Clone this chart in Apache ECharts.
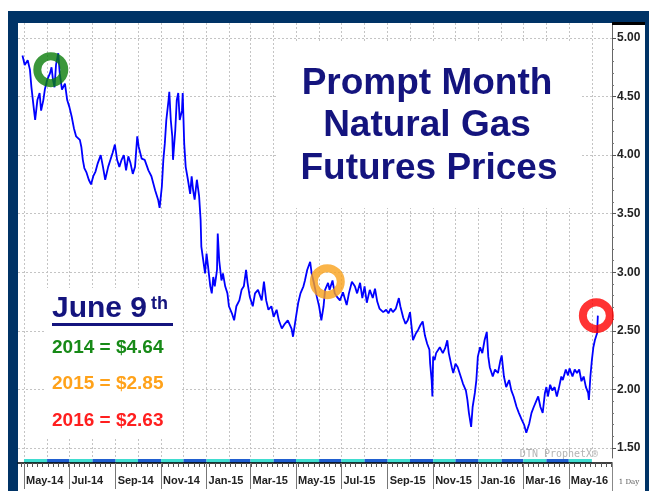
<!DOCTYPE html>
<html>
<head>
<meta charset="utf-8">
<script src="https://cdn.jsdelivr.net/npm/echarts@6/dist/echarts.min.js"></script>
<style>html,body{margin:0;padding:0;background:#fff}#c{width:649px;height:491px}</style>
</head>
<body>
<div id="c"></div>
<script>
// ---- data ----
const dates = [
'2014-04-29','2014-05-02','2014-05-06','2014-05-09','2014-05-11','2014-05-14','2014-05-16','2014-05-19','2014-05-22','2014-05-24',
'2014-05-27','2014-05-29','2014-06-01','2014-06-05','2014-06-07','2014-06-09','2014-06-11','2014-06-13','2014-06-16','2014-06-18',
'2014-06-21','2014-06-25','2014-06-28','2014-07-01','2014-07-04','2014-07-07','2014-07-10','2014-07-15','2014-07-17','2014-07-19',
'2014-07-21','2014-07-24','2014-07-27','2014-07-30','2014-08-02','2014-08-05','2014-08-08','2014-08-12','2014-08-15','2014-08-18',
'2014-08-22','2014-08-25','2014-08-28','2014-08-31','2014-09-03','2014-09-06','2014-09-09','2014-09-12','2014-09-15','2014-09-18',
'2014-09-21','2014-09-24','2014-09-27','2014-09-30','2014-10-02','2014-10-06','2014-10-10','2014-10-15','2014-10-19','2014-10-24',
'2014-10-28','2014-10-30','2014-11-02','2014-11-04','2014-11-06','2014-11-08','2014-11-11','2014-11-12','2014-11-14','2014-11-16',
'2014-11-17','2014-11-20','2014-11-22','2014-11-24','2014-11-26','2014-11-29','2014-11-30','2014-12-02','2014-12-04','2014-12-07',
'2014-12-10','2014-12-12','2014-12-14','2014-12-16','2014-12-19','2014-12-22','2014-12-24','2014-12-25','2014-12-28','2014-12-30',
'2015-01-01','2015-01-03','2015-01-06','2015-01-08','2015-01-10','2015-01-12','2015-01-15','2015-01-16','2015-01-18','2015-01-21',
'2015-01-23','2015-01-26','2015-01-29','2015-01-31','2015-02-04','2015-02-07','2015-02-10','2015-02-14','2015-02-17','2015-02-20',
'2015-02-23','2015-02-25','2015-02-28','2015-03-04','2015-03-07','2015-03-11','2015-03-16','2015-03-19','2015-03-22','2015-03-25',
'2015-03-29','2015-04-01','2015-04-05','2015-04-08','2015-04-12','2015-04-16','2015-04-20','2015-04-25','2015-04-27','2015-05-01',
'2015-05-04','2015-05-07','2015-05-11','2015-05-13','2015-05-16','2015-05-20','2015-05-22','2015-05-25','2015-05-29','2015-06-01',
'2015-06-04','2015-06-07','2015-06-09','2015-06-13','2015-06-15','2015-06-19','2015-06-22','2015-06-25','2015-06-29','2015-07-03',
'2015-07-08','2015-07-11','2015-07-15','2015-07-19','2015-07-22','2015-07-26','2015-07-29','2015-08-01','2015-08-04','2015-08-08',
'2015-08-12','2015-08-15','2015-08-18','2015-08-21','2015-08-26','2015-08-30','2015-09-02','2015-09-05','2015-09-08','2015-09-12',
'2015-09-16','2015-09-18','2015-09-22','2015-09-25','2015-09-28','2015-10-01','2015-10-03','2015-10-05','2015-10-09','2015-10-12',
'2015-10-15','2015-10-18','2015-10-21','2015-10-24','2015-10-27','2015-10-28','2015-10-30','2015-10-31','2015-11-01','2015-11-03',
'2015-11-05','2015-11-10','2015-11-14','2015-11-17','2015-11-20','2015-11-22','2015-11-26','2015-11-28','2015-12-01','2015-12-04',
'2015-12-08','2015-12-11','2015-12-15','2015-12-17','2015-12-19','2015-12-22','2015-12-24','2015-12-27','2015-12-29','2015-12-31',
'2016-01-03','2016-01-06','2016-01-09','2016-01-12','2016-01-14','2016-01-16','2016-01-20','2016-01-23','2016-01-27','2016-01-30',
'2016-02-01','2016-02-04','2016-02-07','2016-02-11','2016-02-14','2016-02-17','2016-02-21','2016-02-24','2016-02-28','2016-03-02',
'2016-03-05','2016-03-09','2016-03-12','2016-03-15','2016-03-19','2016-03-21','2016-03-24','2016-03-27','2016-03-30','2016-04-01',
'2016-04-03','2016-04-06','2016-04-09','2016-04-12','2016-04-15','2016-04-18','2016-04-21','2016-04-23','2016-04-27','2016-04-30',
'2016-05-02','2016-05-06','2016-05-09','2016-05-12','2016-05-15','2016-05-18','2016-05-21','2016-05-24','2016-05-27','2016-05-28',
'2016-05-30','2016-06-01','2016-06-03','2016-06-05','2016-06-07','2016-06-08','2016-06-09'
];
const prices = [
4.85,4.77,4.81,4.73,4.58,4.41,4.30,4.47,4.53,4.38,
4.47,4.56,4.64,4.70,4.75,4.64,4.58,4.77,4.87,4.70,
4.56,4.61,4.47,4.41,4.33,4.23,4.16,4.13,4.07,3.96,
3.89,3.85,3.79,3.75,3.82,3.86,3.93,4.00,3.90,3.79,
3.90,3.96,4.02,4.09,3.96,3.90,3.96,4.00,3.87,3.99,
3.93,3.84,3.90,4.16,4.07,3.97,3.96,3.87,3.82,3.70,
3.62,3.55,3.73,3.96,4.10,4.30,4.47,4.54,4.30,4.16,
3.96,4.21,4.47,4.53,4.30,4.38,4.53,4.10,3.90,3.79,
3.67,3.82,3.70,3.62,3.79,3.65,3.45,3.22,3.08,2.99,
3.16,3.05,2.88,2.82,2.96,2.88,3.02,3.33,3.10,2.93,
2.99,2.88,2.82,2.71,2.65,2.59,2.71,2.76,2.85,2.88,
3.02,2.91,2.79,2.71,2.82,2.85,2.76,2.92,2.76,2.68,
2.71,2.62,2.68,2.59,2.52,2.56,2.59,2.52,2.45,2.62,
2.74,2.82,2.88,2.93,3.02,3.09,2.99,2.91,2.79,2.71,
2.59,2.71,2.85,2.91,2.85,2.93,2.82,2.79,2.76,2.83,
2.72,2.82,2.92,2.88,2.82,2.91,2.78,2.88,2.74,2.85,
2.78,2.86,2.75,2.69,2.66,2.68,2.65,2.69,2.66,2.69,
2.78,2.71,2.61,2.56,2.59,2.66,2.54,2.42,2.48,2.51,
2.55,2.58,2.46,2.39,2.34,2.22,2.08,1.94,2.28,2.25,
2.31,2.36,2.31,2.35,2.42,2.31,2.19,2.14,2.22,2.19,
2.11,2.05,1.99,1.91,1.80,1.68,1.85,1.97,2.08,2.28,
2.36,2.31,2.42,2.49,2.28,2.19,2.11,2.17,2.14,2.24,
2.29,2.11,2.02,2.08,1.99,1.94,1.85,1.80,1.74,1.70,
1.63,1.71,1.80,1.85,1.91,1.94,1.85,1.80,1.97,2.02,
1.94,2.04,1.99,2.02,1.94,2.02,2.11,2.08,2.17,2.12,
2.18,2.11,2.17,2.14,2.17,2.07,2.11,2.02,1.97,1.91,
2.11,2.25,2.36,2.42,2.46,2.48,2.63
];
const xTickDates  = ['2014-05-01','2014-07-01','2014-09-01','2014-11-01','2015-01-01','2015-03-01','2015-05-01','2015-07-01','2015-09-01','2015-11-01','2016-01-01','2016-03-01','2016-05-01'];
const xTickLabels = ['May-14','Jul-14','Sep-14','Nov-14','Jan-15','Mar-15','May-15','Jul-15','Sep-15','Nov-15','Jan-16','Mar-16','May-16'];
const ringDates  = ['2014-06-06','2015-06-12','2016-06-07'];
const ringValues = [4.73, 2.92, 2.63];
const noteLines  = ['2014 = $4.64','2015 = $2.85','2016 = $2.63'];

// ---- day-by-day category axis (axis scaffolding) ----
const days = [];
for (let t = Date.UTC(2014,3,23); t <= Date.UTC(2016,5,28); t += 86400000) {
  days.push(new Date(t).toISOString().slice(0,10));
}
const isMonthStart = (i, v) => v.slice(8) === '01';
const isMonday = (i, v) => new Date(v + 'T00:00:00Z').getUTCDay() === 1;
const isTick = (i, v) => xTickDates.indexOf(v) >= 0;

const ringColors = ['#0a7d0a', '#f9a11b', '#ff0000'];
const noteColors = ['#178a17', '#ffa21a', '#ff1f1f'];
const navy = '#003366';
const titleColor = '#14147e';
const sans = '"Liberation Sans",Arial,sans-serif';

const chart = echarts.init(document.getElementById('c'), null, {renderer: 'canvas'});
chart.setOption({
  backgroundColor: '#ffffff',
  animation: false,
  grid: [
    {left: 18, right: 37, top: 38, bottom: 43},    // main price grid (1.50 .. 5.00)
    {left: 18, right: 37, top: 23, bottom: 33},    // full plot frame (vertical grid lines)
    {left: 18, right: 37, top: 459, height: 4}     // month band + date axis
  ],
  xAxis: [
    {type: 'category', gridIndex: 0, data: days, boundaryGap: false,
     axisLine: {show: false}, axisTick: {show: false}, axisLabel: {show: false}, splitLine: {show: false}},
    {type: 'category', gridIndex: 1, data: days, boundaryGap: false,
     axisLine: {show: false}, axisTick: {show: false}, axisLabel: {show: false},
     splitLine: {show: true, interval: isMonthStart, lineStyle: {color: '#c4c4c4', type: [2, 2], width: 1}}},
    {type: 'category', gridIndex: 2, data: days, boundaryGap: false, position: 'bottom',
     axisLine: {show: true, lineStyle: {color: '#000', width: 1.5}},
     axisTick: {show: true, interval: isMonday, length: 4, lineStyle: {color: '#555'}},
     axisLabel: {show: true, interval: isTick, align: 'left', margin: 12, padding: [0,0,0,2],
       formatter: v => xTickLabels[xTickDates.indexOf(v)] || '',
       fontFamily: sans, fontWeight: 'bold', fontSize: 11, color: '#222'},
     splitLine: {show: false},
     splitArea: {show: true, interval: isMonthStart, areaStyle: {color: ['#3fdcd0', '#1f5fd0']}}},
    {type: 'category', gridIndex: 2, data: days, boundaryGap: false, position: 'bottom',
     axisLine: {show: false}, axisTick: {show: true, interval: isTick, length: 26, lineStyle: {color: '#777'}},
     axisLabel: {show: false}, splitLine: {show: false}}
  ],
  yAxis: [
    {type: 'value', gridIndex: 0, position: 'right', min: 1.5, max: 5, interval: 0.5,
     axisLine: {show: false},
     axisTick: {show: true, length: 4, lineStyle: {color: '#555'}},
     minorTick: {show: true, splitNumber: 5, length: 2, lineStyle: {color: '#777'}},
     axisLabel: {margin: 5, formatter: v => v.toFixed(2), fontFamily: sans, fontWeight: 'bold', fontSize: 12, color: '#222'},
     splitLine: {show: true, lineStyle: {color: '#c4c4c4', type: [2, 2], width: 1}}},
    {type: 'value', gridIndex: 1, position: 'right', min: 0, max: 1,
     axisLine: {show: true, lineStyle: {color: '#666', width: 1}},
     axisTick: {show: false}, axisLabel: {show: false}, splitLine: {show: false}},
    {type: 'value', gridIndex: 2, min: 0, max: 1, show: false}
  ],
  series: [
    {type: 'line', xAxisIndex: 0, yAxisIndex: 0, z: 3,
     data: dates.map((d, i) => [d, prices[i]]),
     showSymbol: false, symbol: 'none',
     lineStyle: {color: '#0000ff', width: 1.8}},
    {type: 'scatter', xAxisIndex: 0, yAxisIndex: 0, z: 5,
     data: ringDates.map((d, i) => ({value: [d, ringValues[i]],
       itemStyle: {color: 'rgba(0,0,0,0)', borderColor: ringColors[i], borderWidth: 8}})),
     symbol: 'circle', symbolSize: 27}
  ],
  graphic: {elements: [
    {type: 'rect', silent: true, z: -20, shape: {x: 8, y: 11, width: 641, height: 480}, style: {fill: navy}},
    {type: 'rect', silent: true, z: -19, shape: {x: 18, y: 23, width: 627, height: 468}, style: {fill: '#ffffff'}},
    {type: 'rect', silent: true, z: 10, shape: {x: 612, y: 22, width: 33, height: 3}, style: {fill: '#000'}},
    {type: 'rect', silent: true, z: 10, shape: {x: 612, y: 463, width: 1, height: 28}, style: {fill: '#888'}},
    {type: 'text', silent: true, z: 10, style: {x: 629, y: 482, text: '1 Day', fill: '#555',
      font: '7px "DejaVu Serif",serif', align: 'center', verticalAlign: 'middle'}},
    {type: 'text', silent: true, z: 10, style: {x: 559, y: 454, text: 'DTN ProphetX®', fill: '#b4b4b4',
      font: '10px "DejaVu Sans Mono",monospace', align: 'center', verticalAlign: 'middle'}},
    // title box
    {type: 'rect', silent: true, z: 1, shape: {x: 276, y: 42, width: 306, height: 166}, style: {fill: '#ffffff'}},
    {type: 'text', silent: true, z: 10, style: {x: 427, y: 84, text: 'Prompt Month', fill: titleColor,
      font: 'bold 37px ' + sans, align: 'center', verticalAlign: 'middle'}},
    {type: 'text', silent: true, z: 10, style: {x: 427, y: 126, text: 'Natural Gas', fill: titleColor,
      font: 'bold 37px ' + sans, align: 'center', verticalAlign: 'middle'}},
    {type: 'text', silent: true, z: 10, style: {x: 429, y: 169, text: 'Futures Prices', fill: titleColor,
      font: 'bold 37px ' + sans, align: 'center', verticalAlign: 'middle'}},
    // note box
    {type: 'rect', silent: true, z: 1, shape: {x: 46, y: 288, width: 136, height: 150}, style: {fill: '#ffffff'}},
    {type: 'text', silent: true, z: 10, style: {x: 52, y: 309, text: 'June 9', fill: titleColor,
      font: 'bold 30px ' + sans, align: 'left', verticalAlign: 'middle'}},
    {type: 'text', silent: true, z: 10, style: {x: 151, y: 304, text: 'th', fill: titleColor,
      font: 'bold 18px ' + sans, align: 'left', verticalAlign: 'middle'}},
    {type: 'rect', silent: true, z: 10, shape: {x: 52, y: 323, width: 121, height: 3}, style: {fill: titleColor}},
    {type: 'text', silent: true, z: 10, style: {x: 52, y: 347.5, text: noteLines[0], fill: noteColors[0],
      font: 'bold 19px ' + sans, align: 'left', verticalAlign: 'middle'}},
    {type: 'text', silent: true, z: 10, style: {x: 52, y: 384, text: noteLines[1], fill: noteColors[1],
      font: 'bold 19px ' + sans, align: 'left', verticalAlign: 'middle'}},
    {type: 'text', silent: true, z: 10, style: {x: 52, y: 420.5, text: noteLines[2], fill: noteColors[2],
      font: 'bold 19px ' + sans, align: 'left', verticalAlign: 'middle'}}
  ]}
});
</script>
</body>
</html>
